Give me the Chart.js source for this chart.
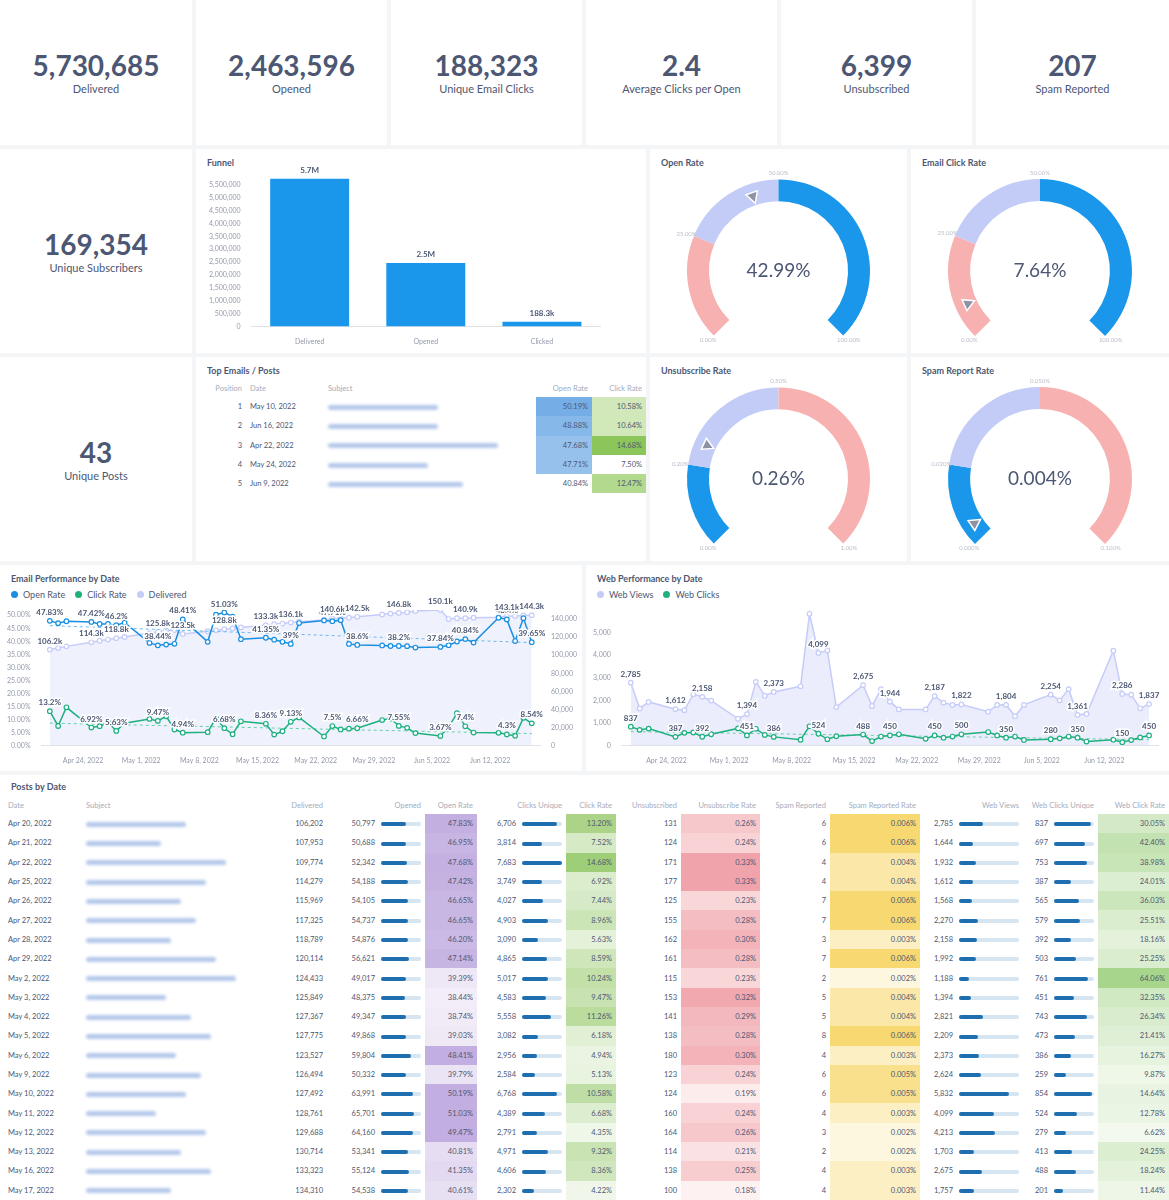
<!DOCTYPE html>
<html lang="en">
<head>
<meta charset="UTF-8">
<title>Email Dashboard</title>
<script src="https://cdn.jsdelivr.net/npm/chart.js"></script>
<style>
  body { margin:0; width:1169px; height:1200px; overflow:hidden; background:#f3f5f7; font-family: Lato, "Open Sans", sans-serif; color:#4c5773; }
  .card { position:absolute; background:#fff; box-sizing:border-box; }
  .kpi { display:flex; flex-direction:column; align-items:center; justify-content:center; }
  .kpi .v { font-size:28px; font-weight:700; color:#4c5773; line-height:30px; }
  .kpi .l { font-size:11px; color:#4c5773; margin-top:2px; }
  .title { position:absolute; left:11px; top:8px; font-size:9px; font-weight:700; color:#4c5773; }
  .legend { position:absolute; left:11px; top:24px; font-size:9px; display:flex; gap:10px; }
  .legend span::before { content:""; display:inline-block; width:7px; height:7px; border-radius:50%; background:var(--c); margin-right:5px; }
  canvas { position:absolute; }
  table { border-collapse:collapse; font-size:7.5px; table-layout:fixed; }
  th { font-weight:400; color:#a4acbc; height:18px; padding:0 4px; white-space:nowrap; }
  td { padding:0 4px; height:19.3px; white-space:nowrap; color:#4c5773; }
  .blur { display:inline-block; height:5px; border-radius:3px; background:#b3c8ea; filter:blur(1.8px); vertical-align:middle; }
  .bar { display:inline-block; width:40px; height:4px; background:#d5e6f2; border-radius:2px; vertical-align:middle; margin-left:6px; position:relative; }
  .bar i { position:absolute; left:0; top:0; bottom:0; background:#1f6fb0; border-radius:2px; }
  .r { text-align:right; }
</style>
</head>
<body>
<div class="card kpi" style="left:0;top:0;width:192px;height:145px"><div class="v">5,730,685</div><div class="l">Delivered</div></div>
<div class="card kpi" style="left:196px;top:0;width:191px;height:145px"><div class="v">2,463,596</div><div class="l">Opened</div></div>
<div class="card kpi" style="left:391px;top:0;width:191px;height:145px"><div class="v">188,323</div><div class="l">Unique Email Clicks</div></div>
<div class="card kpi" style="left:586px;top:0;width:191px;height:145px"><div class="v">2.4</div><div class="l">Average Clicks per Open</div></div>
<div class="card kpi" style="left:781px;top:0;width:191px;height:145px"><div class="v">6,399</div><div class="l">Unsubscribed</div></div>
<div class="card kpi" style="left:976px;top:0;width:193px;height:145px"><div class="v">207</div><div class="l">Spam Reported</div></div>

<div class="card kpi" style="left:0;top:149px;width:192px;height:204px"><div class="v">169,354</div><div class="l">Unique Subscribers</div></div>
<div class="card" style="left:196px;top:149px;width:450px;height:204px"><div class="title">Funnel</div><canvas id="funnel" style="left:6px;top:14px" width="438" height="186"></canvas></div>
<div class="card" style="left:650px;top:149px;width:257px;height:204px"><div class="title">Open Rate</div><canvas id="g1" style="left:0;top:20px" width="257" height="180"></canvas></div>
<div class="card" style="left:911px;top:149px;width:258px;height:204px"><div class="title">Email Click Rate</div><canvas id="g2" style="left:0;top:20px" width="258" height="180"></canvas></div>

<div class="card kpi" style="left:0;top:357px;width:192px;height:204px"><div class="v">43</div><div class="l">Unique Posts</div></div>
<div class="card" style="left:196px;top:357px;width:450px;height:204px"><div class="title">Top Emails / Posts</div>
  <table id="topTable" style="position:absolute;left:4px;top:22px;width:446px"></table></div>
<div class="card" style="left:650px;top:357px;width:257px;height:204px"><div class="title">Unsubscribe Rate</div><canvas id="g3" style="left:0;top:20px" width="257" height="180"></canvas></div>
<div class="card" style="left:911px;top:357px;width:258px;height:204px"><div class="title">Spam Report Rate</div><canvas id="g4" style="left:0;top:20px" width="258" height="180"></canvas></div>

<div class="card" style="left:0;top:565px;width:582px;height:206px"><div class="title">Email Performance by Date</div>
  <div class="legend"><span style="--c:#1a8fe0">Open Rate</span><span style="--c:#1eb07e">Click Rate</span><span style="--c:#c5ccf8">Delivered</span></div>
  <canvas id="email" style="left:4px;top:33px" width="576" height="170"></canvas></div>
<div class="card" style="left:586px;top:565px;width:583px;height:206px"><div class="title">Web Performance by Date</div>
  <div class="legend"><span style="--c:#c5ccf8">Web Views</span><span style="--c:#1eb07e">Web Clicks</span></div>
  <canvas id="web" style="left:4px;top:33px" width="576" height="170"></canvas></div>

<div class="card" style="left:0;top:775px;width:1169px;height:425px"><div class="title" style="top:6px">Posts by Date</div>
  <table id="posts" style="position:absolute;left:4px;top:21px;width:1165px"></table></div>

<script>
// ---- data ----
const kpiFunnelLabels = ["Delivered", "Opened", "Clicked"];
const kpiFunnelValues = [5730685, 2463596, 188323];
const funnelTags = ["5.7M", "2.5M", "188.3k"];

const dates = ["2022-04-20","2022-04-21","2022-04-22","2022-04-25","2022-04-26","2022-04-27","2022-04-28","2022-04-29",
  "2022-05-02","2022-05-03","2022-05-04","2022-05-05","2022-05-06","2022-05-09","2022-05-10","2022-05-11","2022-05-12","2022-05-13",
  "2022-05-16","2022-05-17","2022-05-18","2022-05-19","2022-05-20","2022-05-23","2022-05-24","2022-05-25","2022-05-26","2022-05-27",
  "2022-05-30","2022-05-31","2022-06-01","2022-06-02","2022-06-03","2022-06-06","2022-06-07","2022-06-08","2022-06-09","2022-06-10",
  "2022-06-13","2022-06-14","2022-06-15","2022-06-16","2022-06-17"];
const openRate = [47.83,46.95,47.68,47.42,46.65,46.65,46.20,47.14,39.39,38.44,38.74,39.03,48.41,39.79,50.19,51.03,49.47,40.81,
  41.35,40.61,39.8,39.0,47.0,48.0,47.71,48.1,39.0,38.6,38.4,38.2,38.2,38.14,37.6,37.84,38.5,39.92,40.84,39.5,49.0,48.4,40.1,48.88,39.65];
const clickRate = [13.20,7.52,14.68,6.92,7.44,8.96,5.63,8.59,10.24,9.47,11.26,6.18,4.94,5.13,10.58,6.68,4.35,9.32,
  8.36,4.22,5.5,9.13,10.8,3.5,7.5,6.2,6.5,6.66,9.8,10.4,7.55,6.8,4.8,3.67,7.0,12.47,7.4,5.0,4.9,4.3,3.74,10.64,8.54];
const delivered = [106202,107953,109774,114279,115969,117325,118789,120114,124433,125849,127367,127775,123527,126494,127492,128761,129688,130714,
  133323,134310,135000,136100,137000,139000,140600,141000,141500,142500,145000,146000,146800,147500,149000,150100,140000,140900,140900,141500,
  142000,143100,143500,144000,144300];
const webViews = [2785,1644,1932,1612,1568,2270,2158,1992,1188,1394,2821,2209,2373,2624,5832,4099,4213,1703,
  2675,1757,2500,1944,1600,1600,2187,1900,1800,1822,1500,1800,1804,1300,1800,2254,2000,2500,1361,1400,4200,2286,2250,1650,1837];
const webClicks = [837,697,753,387,565,579,392,503,761,451,743,473,386,259,854,524,279,413,
  488,201,400,450,500,300,450,350,400,500,600,450,350,400,250,280,320,400,350,180,260,150,244,360,450];
const openTrend = [46.0, 39.5];
const clickTrend = [8.6, 4.6];
const webClickTrend = [620, 260];
const labelIdx = [0,3,6,9,12,15,18,21,24,27,30,33,36,39,42];
const funnelTicks = [0,500000,1000000,1500000,2000000,2500000,3000000,3500000,4000000,4500000,5000000,5500000];

const gauges = [
  { id: "g1", value: 42.99, text: "42.99%", stops: [0, 25, 50, 100], ticks: ["0.00%","25.00%","50.00%","100.00%"], colors: ["#f7b1b1","#c3cbf7","#1a97ea"] },
  { id: "g2", value: 7.64, text: "7.64%", stops: [0, 25, 50, 100], ticks: ["0.00%","25.00%","50.00%","100.00%"], colors: ["#f7b1b1","#c3cbf7","#1a97ea"] },
  { id: "g3", value: 0.26, text: "0.26%", stops: [0, 0.2, 0.5, 1], ticks: ["0.00%","0.20%","0.50%","1.00%"], colors: ["#1a97ea","#c3cbf7","#f7b1b1"] },
  { id: "g4", value: 0.004, text: "0.004%", stops: [0, 0.02, 0.05, 0.1], ticks: ["0.000%","0.020%","0.050%","0.100%"], colors: ["#1a97ea","#c3cbf7","#f7b1b1"] },
];

const topEmails = [
  [1, "May 10, 2022", 110, 50.19, 10.58],
  [2, "Jun 16, 2022", 110, 48.88, 10.64],
  [3, "Apr 22, 2022", 170, 47.68, 14.68],
  [4, "May 24, 2022", 100, 47.71, 7.50],
  [5, "Jun 9, 2022", 135, 40.84, 12.47],
];

// date, delivered, opened, openRate, clicks, clickRate, unsub, unsubRate, spam, spamRate, webViews, webClicks, webClickRate, subjectWidth
const posts = [
  ["Apr 20, 2022",106202,50797,47.83,6706,13.20,131,0.26,6,0.006,2785,837,30.05,100],
  ["Apr 21, 2022",107953,50688,46.95,3814,7.52,124,0.24,6,0.006,1644,697,42.40,75],
  ["Apr 22, 2022",109774,52342,47.68,7683,14.68,171,0.33,4,0.004,1932,753,38.98,140],
  ["Apr 25, 2022",114279,54188,47.42,3749,6.92,177,0.33,4,0.004,1612,387,24.01,120],
  ["Apr 26, 2022",115969,54105,46.65,4027,7.44,125,0.23,7,0.006,1568,565,36.03,95],
  ["Apr 27, 2022",117325,54737,46.65,4903,8.96,155,0.28,7,0.006,2270,579,25.51,110],
  ["Apr 28, 2022",118789,54876,46.20,3090,5.63,162,0.30,3,0.003,2158,392,18.16,85],
  ["Apr 29, 2022",120114,56621,47.14,4865,8.59,161,0.28,7,0.006,1992,503,25.25,130],
  ["May 2, 2022",124433,49017,39.39,5017,10.24,115,0.23,2,0.002,1188,761,64.06,150],
  ["May 3, 2022",125849,48375,38.44,4583,9.47,153,0.32,5,0.004,1394,451,32.35,80],
  ["May 4, 2022",127367,49347,38.74,5558,11.26,141,0.29,5,0.004,2821,743,26.34,105],
  ["May 5, 2022",127775,49868,39.03,3082,6.18,138,0.28,8,0.006,2209,473,21.41,125],
  ["May 6, 2022",123527,59804,48.41,2956,4.94,180,0.30,4,0.003,2373,386,16.27,90],
  ["May 9, 2022",126494,50332,39.79,2584,5.13,123,0.24,6,0.005,2624,259,9.87,115],
  ["May 10, 2022",127492,63991,50.19,6768,10.58,124,0.19,6,0.005,5832,854,14.64,100],
  ["May 11, 2022",128761,65701,51.03,4389,6.68,160,0.24,4,0.003,4099,524,12.78,70],
  ["May 12, 2022",129688,64160,49.47,2791,4.35,164,0.26,3,0.002,4213,279,6.62,120],
  ["May 13, 2022",130714,53341,40.81,4971,9.32,114,0.21,2,0.002,1703,413,24.25,95],
  ["May 16, 2022",133323,55124,41.35,4606,8.36,138,0.25,4,0.003,2675,488,18.24,125],
  ["May 17, 2022",134310,54538,40.61,2302,4.22,100,0.18,4,0.003,1757,201,11.44,85],
];

// ---- helpers ----
Chart.defaults.font.family = "Lato, 'Open Sans', sans-serif";
Chart.defaults.color = "#949aab";
Chart.defaults.animation = false;
const dayNum = s => Date.parse(s + "T00:00:00Z") / 86400000;
const fmtDay = d => new Date(d * 86400000).toLocaleDateString("en-US", { month: "short", day: "numeric", year: "numeric", timeZone: "UTC" });
const xs = dates.map(dayNum);
const pts = arr => arr.map((v, i) => ({ x: xs[i], y: v }));
const trend = t => [{ x: xs[0], y: t[0] }, { x: xs[xs.length - 1], y: t[1] }];
const mix = (a, b, t) => { t = Math.max(0, Math.min(1, t)); const p = h => [1,3,5].map(i => parseInt(h.substr(i,2),16));
  const A = p(a), B = p(b); return "rgb(" + A.map((v,i) => Math.round(v + (B[i]-v)*t)).join(",") + ")"; };
const n = v => v.toLocaleString("en-US");

// data label plugin, only on datasets that carry a fmt
const valueLabels = {
  id: "valueLabels",
  afterDatasetsDraw(chart) {
    const ctx = chart.ctx;
    chart.data.datasets.forEach((ds, di) => {
      if (!ds.fmt) return;
      const meta = chart.getDatasetMeta(di);
      ctx.save();
      ctx.font = "bold 8px Lato, sans-serif";
      ctx.textAlign = "center";
      ctx.lineWidth = 3; ctx.strokeStyle = "#fff"; ctx.fillStyle = "#4c5773";
      (ds.labelAt || meta.data.map((_, i) => i)).forEach(i => {
        const el = meta.data[i]; if (!el) return;
        const raw = ds.data[i]; const v = typeof raw === "object" ? raw.y : raw;
        const t = ds.fmt(v, i);
        ctx.strokeText(t, el.x, el.y - 6); ctx.fillText(t, el.x, el.y - 6);
      });
      ctx.restore();
    });
  }
};

// ---- funnel ----
new Chart(document.getElementById("funnel"), {
  type: "bar",
  data: { labels: kpiFunnelLabels, datasets: [{ data: kpiFunnelValues, backgroundColor: "#1a97ea", barPercentage: 0.68, categoryPercentage: 1,
    fmt: (v, i) => funnelTags[i] }] },
  options: { responsive: false, plugins: { legend: { display: false }, tooltip: { enabled: false } },
    layout: { padding: { top: 14, right: 40, left: 4 } },
    scales: {
      x: { grid: { display: false }, border: { color: "#dfe3e8" }, ticks: { font: { size: 7 } } },
      y: { min: 0, max: 5800000, grid: { display: false }, border: { display: false },
        afterBuildTicks: ax => { ax.ticks = funnelTicks.map(v => ({ value: v })); },
        ticks: { font: { size: 7 }, callback: v => n(v) } } } },
  plugins: [valueLabels]
});

// ---- gauges ----
gauges.forEach(g => {
  const max = g.stops[3];
  const segs = [g.stops[1] - g.stops[0], g.stops[2] - g.stops[1], g.stops[3] - g.stops[2]];
  new Chart(document.getElementById(g.id), {
    type: "doughnut",
    data: { datasets: [{ data: segs, backgroundColor: g.colors, borderWidth: 0 }] },
    options: { responsive: false, rotation: -135, circumference: 270, cutout: "76%",
      layout: { padding: { top: 10, bottom: 13, left: 37, right: 37 } },
      plugins: { legend: { display: false }, tooltip: { enabled: false } } },
    plugins: [{
      id: "gaugeText",
      afterDraw(chart) {
        const arc = chart.getDatasetMeta(0).data[0];
        const cx = arc.x, cy = arc.y, R = arc.outerRadius, r = arc.innerRadius;
        const ctx = chart.ctx;
        ctx.save();
        ctx.fillStyle = "#4c5773"; ctx.font = "19px Lato, sans-serif"; ctx.textAlign = "center"; ctx.textBaseline = "middle";
        ctx.fillText(g.text, cx, cy);
        ctx.font = "6px Lato, sans-serif"; ctx.fillStyle = "#b8bdc9";
        g.stops.forEach((s, i) => {
          const a = (-135 + s / max * 270 - 90) * Math.PI / 180;
          ctx.fillText(g.ticks[i], cx + Math.cos(a) * (R + 8), cy + Math.sin(a) * (R + 6));
        });
        // pointer
        const a = (-135 + g.value / max * 270 - 90) * Math.PI / 180;
        const tip = r + 2, base = r + 13;
        const px = cx + Math.cos(a) * tip, py = cy + Math.sin(a) * tip;
        const bx = cx + Math.cos(a) * base, by = cy + Math.sin(a) * base;
        const nx = -Math.sin(a) * 6, ny = Math.cos(a) * 6;
        ctx.beginPath(); ctx.moveTo(px, py); ctx.lineTo(bx + nx, by + ny); ctx.lineTo(bx - nx, by - ny); ctx.closePath();
        ctx.fillStyle = "#8d93a5"; ctx.strokeStyle = "#fff"; ctx.lineWidth = 1.5; ctx.fill(); ctx.stroke();
        ctx.restore();
      }
    }]
  });
});

// ---- line charts ----
const dateAxis = {
  type: "linear", min: xs[0] - 1, max: xs[xs.length - 1] + 1,
  afterBuildTicks: ax => { const t = []; for (let d = dayNum("2022-04-24"); d <= ax.max; d += 7) t.push({ value: d }); ax.ticks = t; },
  ticks: { callback: v => fmtDay(v), font: { size: 7 }, maxRotation: 0 },
  grid: { display: false }, border: { color: "#dfe3e8" }
};
const lineDs = (data, color, extra) => Object.assign({ data, borderColor: color, backgroundColor: "#fff", borderWidth: 1.5,
  pointRadius: 2.3, pointBorderWidth: 1.2, pointBackgroundColor: "#fff", pointBorderColor: color, tension: 0 }, extra);
const trendDs = (data, color, axis) => ({ data, borderColor: color, borderDash: [3, 3], borderWidth: 1, pointRadius: 0, yAxisID: axis });
const pct = v => v.toFixed(2).replace(/\.?0+$/, "") + "%";
const kfmt = v => (v / 1000).toFixed(1) + "k";

new Chart(document.getElementById("email"), {
  type: "line",
  data: { datasets: [
    lineDs(pts(openRate), "#1a8fe0", { yAxisID: "y", fmt: pct, labelAt: labelIdx }),
    lineDs(pts(clickRate), "#1eb07e", { yAxisID: "y", fmt: pct, labelAt: labelIdx }),
    trendDs(trend(openTrend), "#6cb8ee", "y"),
    trendDs(trend(clickTrend), "#66d0a8", "y"),
    lineDs(pts(delivered), "#c5ccf8", { yAxisID: "y1", fill: "origin", backgroundColor: "rgba(197,204,248,0.28)", fmt: kfmt, labelAt: labelIdx }),
  ] },
  options: { responsive: false, plugins: { legend: { display: false }, tooltip: { enabled: false } },
    layout: { padding: { top: 12 } },
    scales: {
      x: dateAxis,
      y: { min: 0, max: 52, position: "left", grid: { display: false }, border: { display: false },
        afterBuildTicks: ax => { ax.ticks = []; for (let v = 0; v <= 50; v += 5) ax.ticks.push({ value: v }); },
        ticks: { font: { size: 7 }, callback: v => v.toFixed(2) + "%" } },
      y1: { min: 0, max: 150000, position: "right", grid: { display: false }, border: { display: false },
        afterBuildTicks: ax => { ax.ticks = []; for (let v = 0; v <= 140000; v += 20000) ax.ticks.push({ value: v }); },
        ticks: { font: { size: 7 }, callback: v => n(v) } } } },
  plugins: [valueLabels]
});

new Chart(document.getElementById("web"), {
  type: "line",
  data: { datasets: [
    lineDs(pts(webClicks), "#1eb07e", { fmt: v => n(v), labelAt: labelIdx }),
    trendDs(trend(webClickTrend), "#66d0a8", "y"),
    lineDs(pts(webViews), "#c5ccf8", { fill: "origin", backgroundColor: "rgba(197,204,248,0.35)", fmt: v => n(v), labelAt: labelIdx }),
  ] },
  options: { responsive: false, plugins: { legend: { display: false }, tooltip: { enabled: false } },
    layout: { padding: { top: 12, right: 8 } },
    scales: {
      x: dateAxis,
      y: { min: 0, max: 6000, grid: { display: false }, border: { display: false },
        afterBuildTicks: ax => { ax.ticks = []; for (let v = 0; v <= 5000; v += 1000) ax.ticks.push({ value: v }); },
        ticks: { font: { size: 7 }, callback: v => n(v) } } } },
  plugins: [valueLabels]
});

// ---- tables ----
const topTable = document.getElementById("topTable");
topTable.innerHTML = `<colgroup><col style="width:46px"><col style="width:78px"><col style="width:212px"><col style="width:56px"><col style="width:54px"></colgroup>
  <tr><th class="r">Position</th><th style="text-align:left">Date</th><th style="text-align:left">Subject</th><th class="r">Open Rate</th><th class="r">Click Rate</th></tr>` +
  topEmails.map(r => `<tr><td class="r">${r[0]}</td><td>${r[1]}</td><td><span class="blur" style="width:${r[2]}px"></span></td>
    <td class="r" style="background:${r[3] > 45 ? mix("#b9d6f3", "#6aa8e4", (r[3] - 45) / 6) : "#fff"}">${r[3].toFixed(2)}%</td>
    <td class="r" style="background:${r[4] > 8 ? mix("#dcedc8", "#8cc65a", (r[4] - 10) / 4.7) : "#fff"}">${r[4].toFixed(2)}%</td></tr>`).join("");

const bar = (v, max) => `<span class="bar"><i style="width:${Math.min(100, v / max * 100)}%"></i></span>`;
const postsTable = document.getElementById("posts");
postsTable.innerHTML = `<colgroup><col style="width:78px"><col style="width:190px"><col style="width:55px"><col style="width:98px"><col style="width:52px">
  <col style="width:89px"><col style="width:50px"><col style="width:65px"><col style="width:79px"><col style="width:70px"><col style="width:90px">
  <col style="width:103px"><col style="width:75px"><col style="width:71px"></colgroup>
  <tr><th style="text-align:left">Date</th><th style="text-align:left">Subject</th><th class="r">Delivered</th><th class="r">Opened</th><th class="r">Open Rate</th>
  <th class="r">Clicks Unique</th><th class="r">Click Rate</th><th class="r">Unsubscribed</th><th class="r">Unsubscribe Rate</th><th class="r">Spam Reported</th>
  <th class="r">Spam Reported Rate</th><th class="r">Web Views</th><th class="r">Web Clicks Unique</th><th class="r">Web Click Rate</th></tr>` +
  posts.map(r => `<tr><td>${r[0]}</td><td><span class="blur" style="width:${r[13]}px"></span></td><td class="r">${n(r[1])}</td>
    <td class="r">${n(r[2])}${bar(r[2], 80000)}</td>
    <td class="r" style="background:${mix("#f4f0f9", "#c2aee0", (r[3] - 38) / 10)}">${r[3].toFixed(2)}%</td>
    <td class="r">${n(r[4])}${bar(r[4], 7683)}</td>
    <td class="r" style="background:${mix("#f2f8ec", "#9fce78", (r[5] - 4) / 10.7)}">${r[5].toFixed(2)}%</td>
    <td class="r">${r[6]}</td>
    <td class="r" style="background:${mix("#fdf1f1", "#f0a3aa", (r[7] - 0.18) / 0.15)}">${r[7].toFixed(2)}%</td>
    <td class="r">${r[8]}</td>
    <td class="r" style="background:${mix("#fdf7e0", "#f8d870", (r[9] - 0.002) / 0.004)}">${r[9].toFixed(3)}%</td>
    <td class="r">${n(r[10])}${bar(r[10], 7000).replace('<span class="bar"', '<span class="bar" style="width:60px"')}</td>
    <td class="r">${n(r[11])}${bar(r[11], 900)}</td>
    <td class="r" style="background:${mix("#f4f9f0", "#a6d58b", (r[12] - 6) / 58)}">${r[12].toFixed(2)}%</td></tr>`).join("");
</script>
</body>
</html>
